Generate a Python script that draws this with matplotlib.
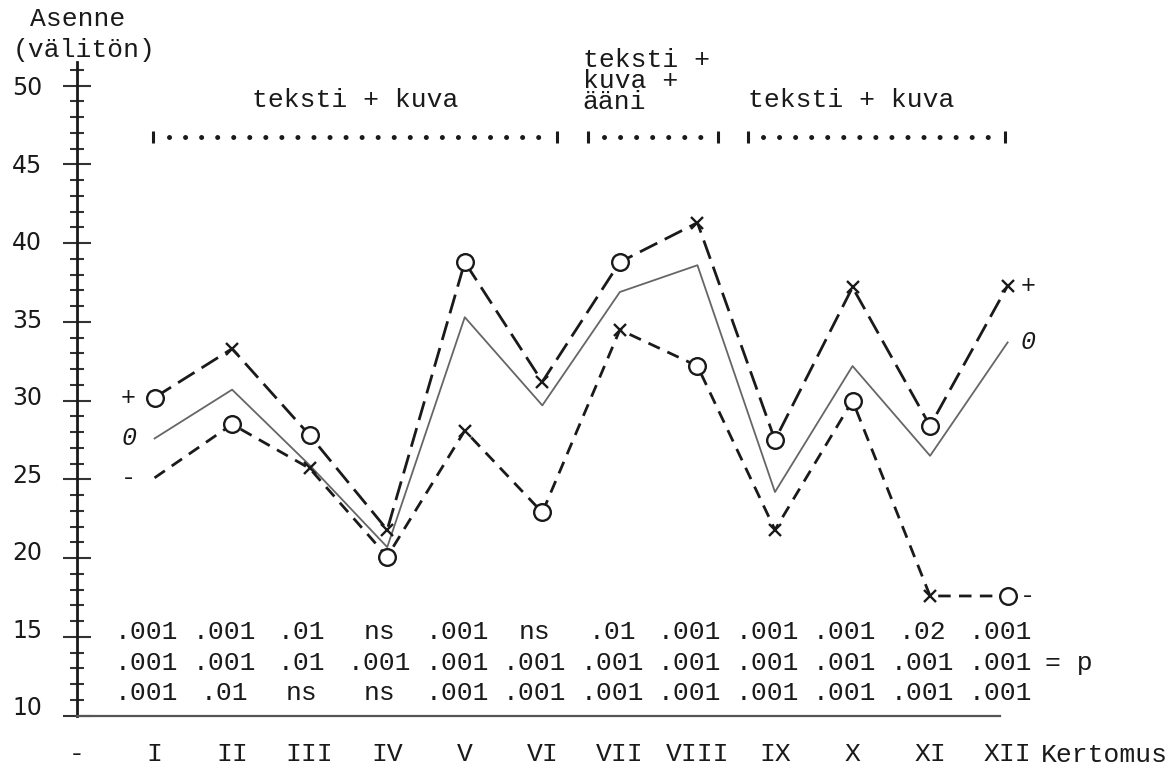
import matplotlib
matplotlib.use("Agg")
import matplotlib.pyplot as plt
import numpy as np
from matplotlib.transforms import ScaledTranslation

# ---------------- data ----------------
x_labels = ["-", "I", "II", "III", "IV", "V", "VI", "VII", "VIII", "IX", "X", "XI", "XII"]
stories = ["I", "II", "III", "IV", "V", "VI", "VII", "VIII", "IX", "X", "XI", "XII"]

upper_plus = [30.2, 33.3, 27.8, 21.8, 38.8, 31.2, 38.8, 41.3, 27.5, 37.2, 28.4, 37.3]
middle_zero = [27.6, 30.7, 25.9, 20.7, 35.3, 29.7, 36.9, 38.6, 24.2, 32.2, 26.5, 33.7]
lower_minus = [25.1, 28.5, 25.7, 20.1, 28.1, 22.9, 34.5, 32.2, 21.8, 30.0, 17.6, 17.6]

p_row1 = [".001", ".001", ".01", "ns", ".001", "ns", ".01", ".001", ".001", ".001", ".02", ".001"]
p_row2 = [".001", ".001", ".01", ".001", ".001", ".001", ".001", ".001", ".001", ".001", ".001", ".001"]
p_row3 = [".001", ".01", "ns", "ns", ".001", ".001", ".001", ".001", ".001", ".001", ".001", ".001"]

y_major = [10, 15, 20, 25, 30, 35, 40, 45, 50]
y_minor = [v for v in range(11, 50) if v % 5]

group_texts = ["teksti + kuva", "teksti +\nkuva +\nääni", "teksti + kuva"]

# ---------------- layout ----------------
MONO = "Liberation Mono"
INK = "#1a1a1a"
W, H = 1167, 773
fig = plt.figure(figsize=(W / 100, H / 100), dpi=100)
ax = fig.add_axes([0, 0, 1, 1])
ax.set_facecolor("white")
ax.set_xlim(-0.993, 14.055)
ax.set_ylim(6.36, 55.44)

x = np.arange(1, len(stories) + 1)

# axes spines
for s in ("top", "right"):
    ax.spines[s].set_visible(False)
ax.spines["left"].set_position(("data", 0))
ax.spines["left"].set_bounds(10, 51.5)
ax.spines["left"].set_linewidth(2.0)
ax.spines["left"].set_color(INK)
ax.spines["bottom"].set_position(("data", 10))
ax.spines["bottom"].set_bounds(0, 11.9)
ax.spines["bottom"].set_linewidth(1.6)
ax.spines["bottom"].set_color("#555555")

ax.set_yticks(y_major)
ax.set_yticks(y_minor + [51], minor=True)   # extra short cross at the top of the axis
ax.set_yticklabels([str(v) for v in y_major], fontsize=17, family="DejaVu Sans", color=INK)
ax.tick_params(axis="y", which="major", direction="inout", length=20, width=1.5,
               color="#333333", pad=15)
ax.tick_params(axis="y", which="minor", direction="inout", length=10, width=1.5,
               color="#333333")
# typed labels drift slightly upward toward the bottom
for lab, v in zip(ax.get_yticklabels(), y_major):
    dy = (50 - v) / 40 * 0.10
    lab.set_transform(lab.get_transform() + ScaledTranslation(0, dy, fig.dpi_scale_trans))

ax.set_xticks(range(len(x_labels)))
ax.set_xticklabels(x_labels, fontsize=19, family=MONO, color=INK)
ax.tick_params(axis="x", length=0, pad=19)

# y axis title
fig.text(30 / W, 1 - 19 / H, "Asenne", ha="left", va="center", fontsize=19,
         family=MONO, color=INK)
fig.text(13 / W, 1 - 50 / H, "(välitön)", ha="left", va="center", fontsize=19,
         family=MONO, color=INK)

# x axis title
ax.text(12.43, 7.5, "Kertomus", ha="left", va="center", fontsize=19, family=MONO, color=INK)

# ---------------- series ----------------
ax.plot(x, upper_plus, color=INK, lw=2.0, ls=(0, (7, 3)), zorder=3)
ax.plot(x, middle_zero, color="#666666", lw=1.3, ls="-", zorder=2)
ax.plot(x, lower_minus, color=INK, lw=2.0, ls=(0, (4.5, 3)), zorder=3)

up = np.array(upper_plus)
lo = np.array(lower_minus)
odd = np.arange(0, 12, 2)
even = np.arange(1, 12, 2)
circ = dict(marker="o", ms=12, mfc="white", mec=INK, mew=1.7, ls="none", zorder=4)
cross = dict(marker="x", ms=9, mec=INK, mew=1.7, ls="none", zorder=4)
ax.plot(x[odd], up[odd], **circ)
ax.plot(x[even], up[even], **cross)
ax.plot(x[even], lo[even], **circ)
ax.plot(x[odd[1:]], lo[odd[1:]], **cross)

# series labels at both ends
series_marks = [("+", upper_plus, "normal"), ("0", middle_zero, "italic"), ("-", lower_minus, "normal")]
for sym, vals, style in series_marks:
    ax.annotate(sym, (x[0], vals[0]), xytext=(-26, 0), textcoords="offset pixels",
                ha="center", va="center", fontsize=18, family=MONO, style=style, color=INK)
    ax.annotate(sym, (x[-1], vals[-1]), xytext=(20, 0), textcoords="offset pixels",
                ha="center", va="center", fontsize=18, family=MONO, style=style, color=INK)

# ---------------- p-value rows ----------------
row_y = [15.31, 13.35, 11.44]
for yy, row in zip(row_y, [p_row1, p_row2, p_row3]):
    for xi, txt in zip(x, row):
        ax.text(xi - 0.1, yy, txt, ha="center", va="center", fontsize=19,
                family=MONO, color=INK)
ax.text(12.48, row_y[1], "= p", ha="left", va="center", fontsize=19, family=MONO, color=INK)

# ---------------- group brackets ----------------
spans = [(0.98, 6.19), (6.59, 8.27), (8.65, 11.97)]
bracket_y = 46.74
for (a, b) in spans:
    ax.plot([a + 0.2, b - 0.1], [bracket_y, bracket_y], color=INK, lw=3.6,
            ls=(0, (0.01, 3.2)), dash_capstyle="round", solid_capstyle="round")
    ax.plot([a, b], [bracket_y, bracket_y], ls="none", marker="|", ms=9, mew=2.2, color=INK)

ax.text((spans[0][0] + spans[0][1]) / 2, 49.1, group_texts[0], ha="center", va="center",
        fontsize=19, family=MONO, color=INK)
ax.text(spans[1][0] - 0.07, 50.3, group_texts[1], ha="left", va="center",
        fontsize=19, family=MONO, color=INK, linespacing=0.82)
ax.text(spans[2][0], 49.1, group_texts[2], ha="left", va="center",
        fontsize=19, family=MONO, color=INK)

fig.savefig("out.png", dpi=100, facecolor="white")
